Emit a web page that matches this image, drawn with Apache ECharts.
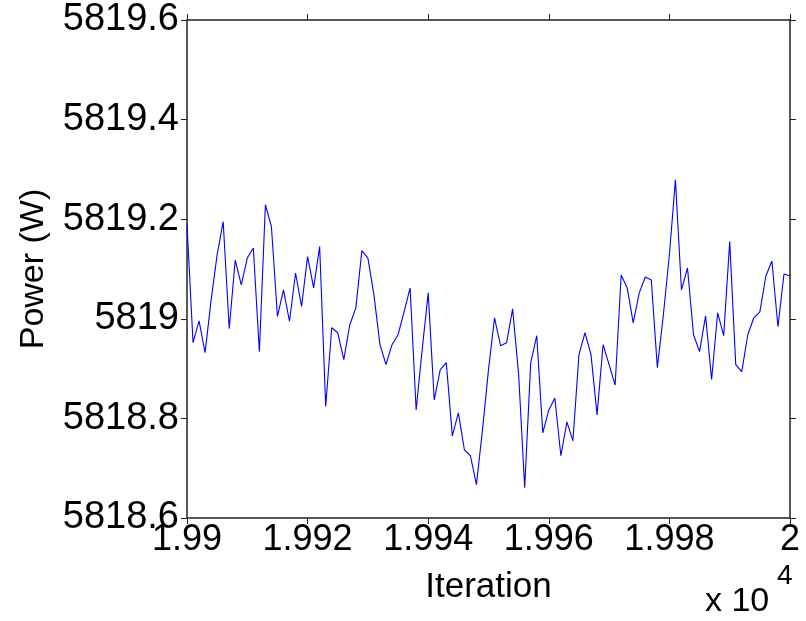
<!DOCTYPE html>
<html>
<head>
<meta charset="utf-8">
<script src="https://cdn.jsdelivr.net/npm/echarts@6/dist/echarts.min.js"></script>
<style>html,body{margin:0;padding:0;background:#fff}#c{width:806px;height:621px}</style>
</head>
<body>
<div id="c"></div>
<script>
// Data
var startIteration = 19900;
var power = [
  5819.189, 5818.952, 5818.996, 5818.932, 5819.038, 5819.129, 5819.195, 5818.980, 5819.118, 5819.068,
  5819.122, 5819.142, 5818.934, 5819.229, 5819.185, 5819.005, 5819.058, 5818.995, 5819.092, 5819.025,
  5819.125, 5819.062, 5819.145, 5818.824, 5818.982, 5818.972, 5818.918, 5818.988, 5819.022, 5819.137,
  5819.122, 5819.048, 5818.948, 5818.908, 5818.948, 5818.968, 5819.014, 5819.062, 5818.817, 5818.938,
  5819.052, 5818.837, 5818.898, 5818.912, 5818.765, 5818.811, 5818.737, 5818.725, 5818.667, 5818.777,
  5818.898, 5819.002, 5818.946, 5818.952, 5819.020, 5818.888, 5818.661, 5818.912, 5818.966, 5818.771,
  5818.817, 5818.841, 5818.725, 5818.793, 5818.755, 5818.928, 5818.972, 5818.928, 5818.807, 5818.948,
  5818.908, 5818.867, 5819.088, 5819.062, 5818.992, 5819.052, 5819.084, 5819.078, 5818.902, 5819.008,
  5819.129, 5819.279, 5819.058, 5819.102, 5818.968, 5818.934, 5819.006, 5818.878, 5819.012, 5818.966,
  5819.155, 5818.908, 5818.894, 5818.968, 5819.002, 5819.014, 5819.086, 5819.116, 5818.984, 5819.090,
  5819.086
];
var xTicks = [19900, 19920, 19940, 19960, 19980, 20000];
var yTicks = [5818.6, 5818.8, 5819.0, 5819.2, 5819.4, 5819.6];
var xTitle = 'Iteration';
var yTitle = 'Power (W)';
var exponentBase = 'x 10';
var exponent = '4';

var seriesData = power.map(function (v, i) { return [startIteration + i, v]; });

var FONT = 'Liberation Sans, Arial, sans-serif';
var axisCol = '#222';
var chart = echarts.init(document.getElementById('c'), null, {renderer: 'canvas'});

function xAxisDef(pos, show) {
  return {
    type: 'value', position: pos, gridIndex: 0,
    min: xTicks[0], max: xTicks[xTicks.length - 1], interval: 20,
    name: show ? xTitle : '', nameLocation: 'middle', nameGap: 52,
    nameTextStyle: {fontFamily: FONT, fontSize: 35, color: '#000'},
    axisLine: {show: true, onZero: false, lineStyle: {color: axisCol, width: 1.5}},
    axisTick: {show: true, inside: false, length: 6, lineStyle: {color: axisCol, width: 1}},
    axisLabel: {show: show, margin: 4, fontFamily: FONT, fontSize: 36, color: '#000',
      formatter: function (v) { return String(parseFloat((v / 10000).toFixed(4))); }},
    splitLine: {show: false}
  };
}
function yAxisDef(pos, show) {
  return {
    type: 'value', position: pos, gridIndex: 0,
    min: yTicks[0], max: yTicks[yTicks.length - 1], interval: 0.2,
    name: show ? yTitle : '', nameLocation: 'middle', nameGap: 136, nameRotate: 90,
    nameTextStyle: {fontFamily: FONT, fontSize: 34, color: '#000'},
    axisLine: {show: true, onZero: false, lineStyle: {color: axisCol, width: 1.5}},
    axisTick: {show: true, inside: false, length: 6, lineStyle: {color: axisCol, width: 1}},
    axisLabel: {show: show, margin: 8, fontFamily: FONT, fontSize: 38, color: '#000',
      formatter: function (v) { return String(parseFloat(v.toFixed(1))); }},
    splitLine: {show: false}
  };
}

chart.setOption({
  animation: false,
  backgroundColor: '#fff',
  grid: {left: 187, right: 16, top: 20, bottom: 103, containLabel: false},
  xAxis: [xAxisDef('bottom', true), xAxisDef('top', false)],
  yAxis: [yAxisDef('left', true), yAxisDef('right', false)],
  series: [{
    type: 'line', xAxisIndex: 0, yAxisIndex: 0,
    data: seriesData, showSymbol: false, symbol: 'none',
    lineStyle: {color: '#0000ff', width: 1.1}
  }],
  graphic: [
    {type: 'text', left: 705, top: 585,
      style: {text: exponentBase, fontFamily: FONT, fontSize: 34, fill: '#000'}},
    {type: 'text', left: 777, top: 562,
      style: {text: exponent, fontFamily: FONT, fontSize: 28, fill: '#000'}}
  ]
});
</script>
</body>
</html>
